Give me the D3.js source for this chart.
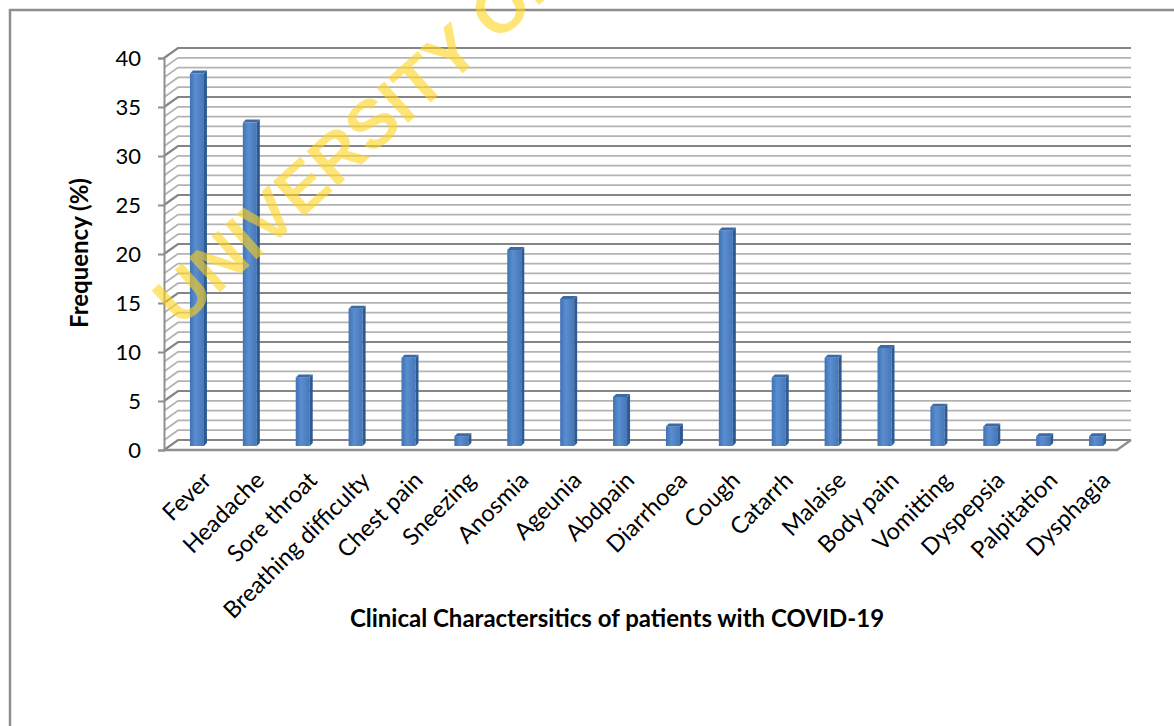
<!DOCTYPE html>
<html>
<head>
<meta charset="utf-8">
<script src="https://cdn.jsdelivr.net/npm/d3@7"></script>
<style>
  body { margin: 0; background: #fff; }
  svg { display: block; }
  text { font-family: Lato, "Liberation Sans", sans-serif; }
</style>
</head>
<body>
<svg id="chart" width="1174" height="726"></svg>
<script>
// chart data
var categories = ["Fever", "Headache", "Sore throat", "Breathing difficulty", "Chest pain",
	"Sneezing", "Anosmia", "Ageunia", "Abdpain", "Diarrhoea", "Cough", "Catarrh",
	"Malaise", "Body pain", "Vomitting", "Dyspepsia", "Palpitation", "Dysphagia"];
var frequency = [38, 33, 7, 14, 9, 1, 20, 15, 5, 2, 22, 7, 9, 10, 4, 2, 1, 1];
var yTicks = [0, 5, 10, 15, 20, 25, 30, 35, 40];
var minorSteps = d3.range(0, 41, 1);

var svg = d3.select("#chart");

// 3d offsets of the back wall
var depthX = 14, depthY = -10;
var barWidth = 14, sideW = 3;

var y = d3.scaleLinear().domain([0, 40]).range([450, 58]);
var x = d3.scaleBand().domain(categories).range([170.5, 1122.5]);

var defs = svg.append("defs");
var grad = defs.append("linearGradient").attr("id", "barFront")
	.attr("x1", "0%").attr("x2", "100%").attr("y1", "0%").attr("y2", "0%");
grad.append("stop").attr("offset", "0%").attr("stop-color", "#3f72b3");
grad.append("stop").attr("offset", "40%").attr("stop-color", "#5a8ed0");
grad.append("stop").attr("offset", "100%").attr("stop-color", "#4677b8");

// outer frame
svg.append("rect")
	.attr("x", 10).attr("y", 10)
	.attr("width", 1180).attr("height", 730)
	.style("fill", "none")
	.style("stroke", "#8e8e8e")
	.style("stroke-width", 2.5);

var x0 = 164, xEnd = 1117;

// back wall + side wall gridlines
svg.selectAll("path.grid")
	.data(minorSteps)
	.enter()
	.append("path")
	.attr("class", "grid")
	.attr("d", function(d) {
		return "M " + x0 + " " + y(d) + " L " + (x0 + depthX) + " " + (y(d) + depthY) +
			" L " + (xEnd + depthX) + " " + (y(d) + depthY);
	})
	.style("fill", "none")
	.style("stroke", function(d) { return d % 5 === 0 ? "#858585" : "#b3b3b3"; })
	.style("stroke-width", function(d) { return d % 5 === 0 ? 2.2 : 1.8; });

// floor front edge
svg.append("path")
	.attr("d", "M " + x0 + " " + y(0) + " L " + xEnd + " " + y(0) + " L " +
		(xEnd + depthX) + " " + (y(0) + depthY))
	.style("fill", "none")
	.style("stroke", "#8f8f8f")
	.style("stroke-width", 2.5);

// y axis
var yAxis = d3.axisLeft(y).tickValues(yTicks).tickSize(6).tickPadding(17);
var gy = svg.append("g").attr("transform", "translate(" + x0 + ",0)").call(yAxis);
gy.select(".domain").style("stroke", "#8f8f8f").style("stroke-width", 2);
gy.selectAll(".tick line").style("stroke", "#8f8f8f").style("stroke-width", 2);
gy.selectAll(".tick text")
	.style("font-size", "22px")
	.style("fill", "#000");

// bars
var base = y(0) - 4;
var bars = svg.selectAll("g.bar")
	.data(frequency)
	.enter()
	.append("g")
	.attr("class", "bar")
	.attr("transform", function(d, i) {
		return "translate(" + (x(categories[i]) + x.bandwidth() / 2 - barWidth / 2) + ",0)";
	});

bars.append("rect")
	.attr("x", 0)
	.attr("y", function(d) { return y(d) - 4; })
	.attr("width", barWidth)
	.attr("height", function(d) { return base - (y(d) - 4); })
	.style("fill", "url(#barFront)");

bars.append("path")
	.attr("d", function(d) {
		var t = y(d) - 4;
		return "M " + barWidth + " " + t + " L " + (barWidth + sideW) + " " + (t - sideW) +
			" L " + (barWidth + sideW) + " " + (base - sideW) + " L " + barWidth + " " + base + " Z";
	})
	.style("fill", "#2d5a92");

bars.append("path")
	.attr("d", function(d) {
		var t = y(d) - 4;
		return "M 0 " + t + " L " + sideW + " " + (t - sideW) + " L " + (barWidth + sideW) + " " +
			(t - sideW) + " L " + barWidth + " " + t + " Z";
	})
	.style("fill", "#3b6aa6");

// category labels
svg.selectAll("text.cat")
	.data(categories)
	.enter()
	.append("text")
	.attr("class", "cat")
	.attr("transform", function(d) {
		return "translate(" + (x(d) + x.bandwidth() / 2 + 10) + ",476) rotate(-45)";
	})
	.attr("text-anchor", "end")
	.attr("dy", "0.35em")
	.style("font-size", "23.5px")
	.text(function(d) { return d; });

// axis titles
svg.append("text")
	.attr("transform", "translate(80,253) rotate(-90)")
	.attr("text-anchor", "middle")
	.attr("dy", "0.35em")
	.style("font-size", "24px")
	.style("font-weight", "bold")
	.text("Frequency (%)");

svg.append("text")
	.attr("x", 617).attr("y", 619)
	.attr("text-anchor", "middle")
	.attr("dy", "0.35em")
	.style("font-size", "24px")
	.style("font-weight", "bold")
	.text("Clinical Charactersitics of patients with COVID-19");

// watermark
svg.append("text")
	.attr("transform", "translate(180,328) rotate(-42)")
	.style("font-family", "'Liberation Sans', Arial, sans-serif")
	.style("font-size", "68px")
	.style("font-weight", "bold")
	.style("fill", "#ffd21a")
	.style("fill-opacity", 0.6)
	.text("UNIVERSITY OF IBADAN LIBRARY");
</script>
</body>
</html>
